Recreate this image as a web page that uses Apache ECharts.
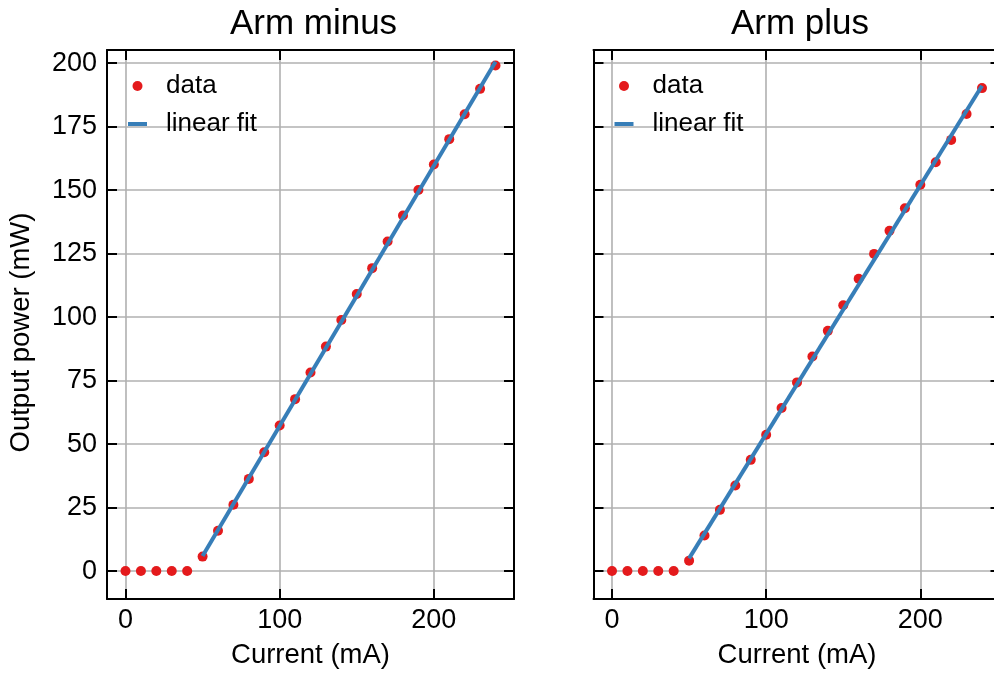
<!DOCTYPE html>
<html>
<head>
<meta charset="utf-8">
<script src="https://cdn.jsdelivr.net/npm/echarts@6/dist/echarts.min.js"></script>
<style>
  html, body { margin: 0; padding: 0; background: #fff; }
  #chart { width: 994px; height: 675px; }
</style>
</head>
<body>
<div id="chart"></div>
<script>
// ---- data ----
const current = [0,10,20,30,40,50,60,70,80,90,100,110,120,130,140,150,160,170,180,190,200,210,220,230,240];
const minusPower = [0,0,0,0,0,5.7,15.9,26.1,36.3,46.8,57.3,67.7,78.2,88.4,98.9,109.1,119.3,129.8,140.0,150.1,160.1,170.1,179.9,189.9,199.1];
const plusPower  = [0,0,0,0,0,4.1,14.0,24.1,33.7,43.8,53.7,64.2,74.3,84.5,94.6,104.7,115.1,124.9,134.0,142.9,152.1,161.0,169.8,180.0,190.2];
const fitCurrent = [50, 240];
const minusFit = [5.9, 200.6];
const plusFit  = [5.0, 191.1];
const xTicks = [0, 100, 200];
const yTicks = [0, 25, 50, 75, 100, 125, 150, 175, 200];
const panelTitles = ['Arm minus', 'Arm plus'];
const xLabel = 'Current (mA)';
const yLabel = 'Output power (mW)';
const seriesNames = ['data', 'linear fit'];

const RED = '#e41a1c', BLUE = '#377eb8';
const FONT = 'Liberation Sans, Arial, Helvetica, sans-serif';
const xMin = -12, xMax = 252, yMin = -11, yMax = 205.2;

const grids = [
  { left: 107, width: 407, top: 50, height: 549, outerBoundsMode: 'none', containLabel: false },
  { left: 593.5, width: 407, top: 50, height: 549, outerBoundsMode: 'none', containLabel: false }
];

function pairs(xs, ys) { return xs.map((x, i) => [x, ys[i]]); }

const axisLine = { show: true, onZero: false, lineStyle: { color: '#000', width: 2 } };
const tickIn = (vals) => ({ show: true, inside: true, length: 10, lineStyle: { color: '#000', width: 2 }, customValues: vals });

const xAxes = [], yAxes = [], series = [], titles = [], legends = [];
[minusPower, plusPower].forEach((pw, g) => {
  xAxes.push({
    type: 'value', gridIndex: g, position: 'bottom', min: xMin, max: xMax,
    axisLine, axisTick: tickIn(xTicks),
    axisLabel: { customValues: xTicks, color: '#000', fontSize: 27, fontFamily: FONT, margin: 8 },
    splitLine: { show: true, lineStyle: { color: '#b0b0b0', width: 1.6 } },
    name: xLabel, nameLocation: 'middle', nameGap: 42,
    nameTextStyle: { color: '#000', fontSize: 27.5, fontFamily: FONT }
  });
  xAxes.push({
    type: 'value', gridIndex: g, position: 'top', min: xMin, max: xMax,
    axisLine, axisTick: tickIn(xTicks), axisLabel: { show: false }, splitLine: { show: false }
  });
  yAxes.push({
    type: 'value', gridIndex: g, position: 'left', min: yMin, max: yMax,
    axisLine, axisTick: tickIn(yTicks),
    axisLabel: { show: g === 0, customValues: yTicks, color: '#000', fontSize: 27, fontFamily: FONT, margin: 10 },
    splitLine: { show: true, lineStyle: { color: '#b0b0b0', width: 1.6 } },
    name: g === 0 ? yLabel : '', nameLocation: 'middle', nameGap: 72,
    nameTextStyle: { color: '#000', fontSize: 27.5, fontFamily: FONT, padding: [0, 16, 0, 0] }
  });
  yAxes.push({
    type: 'value', gridIndex: g, position: 'right', min: yMin, max: yMax,
    axisLine, axisTick: tickIn(yTicks), axisLabel: { show: false }, splitLine: { show: false }
  });
  series.push({
    name: seriesNames[0], type: 'scatter', xAxisIndex: g * 2, yAxisIndex: g * 2,
    data: pairs(current, pw), symbol: 'circle', symbolSize: 10,
    itemStyle: { color: RED, opacity: 1 }, z: 3
  });
  series.push({
    name: seriesNames[1], type: 'line', xAxisIndex: g * 2, yAxisIndex: g * 2,
    data: pairs(fitCurrent, g === 0 ? minusFit : plusFit), symbol: 'none', showSymbol: false,
    lineStyle: { color: BLUE, width: 4 }, itemStyle: { color: BLUE }, z: 4
  });
  titles.push({
    text: panelTitles[g], left: grids[g].left + grids[g].width / 2 - 2, top: 2, textAlign: 'center',
    textStyle: { color: '#000', fontSize: 35, fontWeight: 'normal', fontFamily: FONT }
  });
  legends.push({
    data: [
      { name: seriesNames[0], icon: 'circle' },
      { name: seriesNames[1], icon: 'path://M0,0 M19,10 M0,3 L19,3 L19,7 L0,7 Z' }
    ],
    orient: 'vertical', left: grids[g].left + 16, top: 68,
    itemWidth: 19, itemHeight: 10, itemGap: 12,
    textStyle: { color: '#000', fontSize: 26, fontFamily: FONT, padding: [0, 0, 0, 14] },
    selectedMode: false
  });
});

const chart = echarts.init(document.getElementById('chart'), null, { renderer: 'canvas' });
chart.setOption({
  animation: false,
  backgroundColor: '#fff',
  title: titles,
  legend: legends,
  grid: grids,
  xAxis: xAxes,
  yAxis: yAxes,
  series: series
});
</script>
</body>
</html>
